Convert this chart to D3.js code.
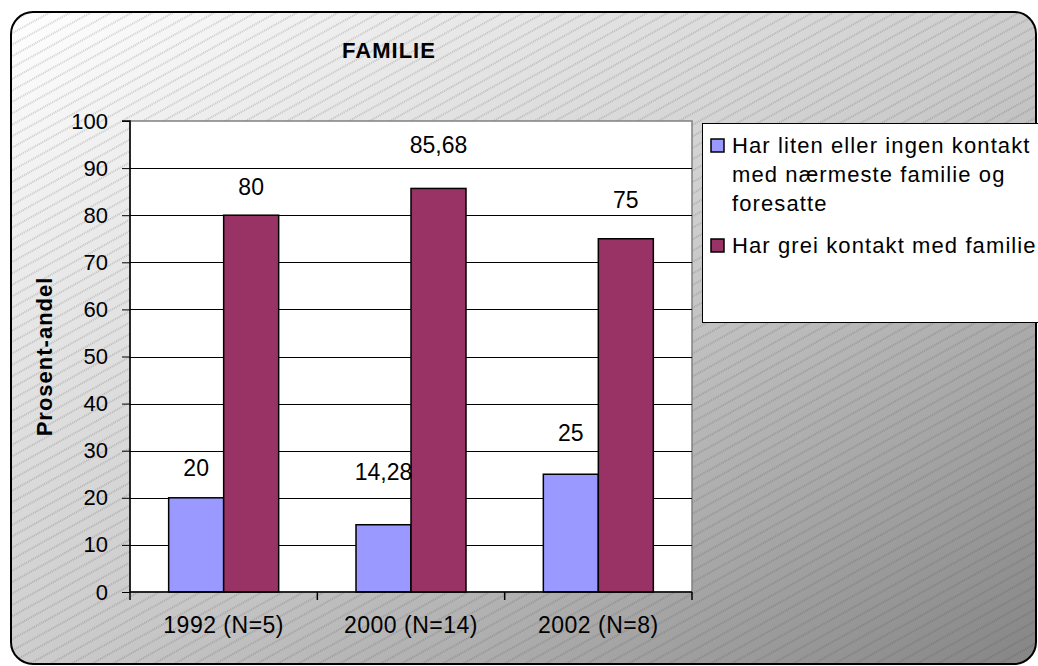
<!DOCTYPE html>
<html><head><meta charset="utf-8">
<script src="https://cdn.jsdelivr.net/npm/d3@7/dist/d3.min.js"></script>
<style>html,body{margin:0;padding:0;background:#fff;}svg{display:block;font-family:"Liberation Sans",Arial,sans-serif;}</style>
</head><body><div id="chart"></div>
<script>
const categories = ["1992 (N=5)", "2000 (N=14)", "2002 (N=8)"];
const seriesNames = ["Har liten eller ingen kontakt med nærmeste familie og foresatte", "Har grei kontakt med familie"];
const seriesLow = [20, 14.28, 25];
const seriesGood = [80, 85.68, 75];
const yTicks = [0, 10, 20, 30, 40, 50, 60, 70, 80, 90, 100];
const legendLines = [["Har liten eller ingen kontakt", "med nærmeste familie og", "foresatte"], ["Har grei kontakt med familie"]];
const colors = ["#9999FF", "#993366"];
const title = "FAMILIE";
const yTitle = "Prosent-andel";
// label gap above each bar (layout, px): [low, good] per category
const labelGap = [[22, 20], [45, 35], [33, 31]];

const W = 1038, H = 666;
const FONT = "Liberation Sans, Arial, sans-serif";
const svg = d3.select("#chart").append("svg").attr("width", W).attr("height", H);
const defs = svg.append("defs");
const grad = defs.append("linearGradient").attr("id", "bg").attr("x1", "0").attr("y1", "0").attr("x2", "1").attr("y2", "1");
grad.append("stop").attr("offset", "0").attr("stop-color", "#ffffff");
grad.append("stop").attr("offset", "0.5").attr("stop-color", "#cdcdcd");
grad.append("stop").attr("offset", "1").attr("stop-color", "#858585");
const pat = defs.append("pattern").attr("id", "hatch").attr("patternUnits", "userSpaceOnUse")
  .attr("width", 20).attr("height", 10).attr("patternTransform", "rotate(-29)");
pat.append("line").attr("x1", 0).attr("x2", 20).attr("y1", 5).attr("y2", 5)
  .attr("stroke", "rgba(60,60,60,0.45)").attr("stroke-width", 1).attr("stroke-dasharray", "1,1");

// Outer frame
svg.append("rect").attr("x", 11).attr("y", 12).attr("width", 1025).attr("height", 652).attr("rx", 22)
  .attr("fill", "url(#bg)");
svg.append("rect").attr("x", 11).attr("y", 12).attr("width", 1025).attr("height", 652).attr("rx", 22)
  .attr("fill", "url(#hatch)").attr("stroke", "#000").attr("stroke-width", 2);

const plot = {l: 130, r: 692, t: 121, b: 592};
const x0 = d3.scaleBand().domain(categories).range([plot.l, plot.r]).paddingInner(0).paddingOuter(0);
const y = d3.scaleLinear().domain([0, 100]).range([plot.b, plot.t]);
const groupW = 110;
const x1 = d3.scaleBand().domain([0, 1]).range([0, groupW]);

// plot background
svg.append("rect").attr("x", plot.l).attr("y", plot.t).attr("width", plot.r - plot.l).attr("height", plot.b - plot.t)
  .attr("fill", "#fff").attr("stroke", "#808080").attr("stroke-width", 1.5);

// gridlines
svg.append("g").selectAll("line").data(yTicks.filter(d => d > 0 && d < 100)).join("line")
  .attr("x1", plot.l).attr("x2", plot.r).attr("y1", d => Math.round(y(d)) + 0.5).attr("y2", d => Math.round(y(d)) + 0.5)
  .attr("stroke", "#000").attr("stroke-width", 1);

// bars
const data = categories.map((c, i) => ({c, i, v: [seriesLow[i], seriesGood[i]]}));
const groups = svg.append("g").selectAll("g").data(data).join("g")
  .attr("transform", d => `translate(${x0(d.c) + (x0.bandwidth() - groupW) / 2},0)`);
groups.selectAll("rect").data(d => d.v.map((v, k) => ({v, k}))).join("rect")
  .attr("x", d => x1(d.k)).attr("width", x1.bandwidth()).attr("y", d => y(d.v)).attr("height", d => y(0) - y(d.v))
  .attr("fill", d => colors[d.k]).attr("stroke", "#000").attr("stroke-width", 1.5);
groups.selectAll("text").data(d => d.v.map((v, k) => ({v, k, i: d.i}))).join("text")
  .attr("x", d => x1(d.k) + x1.bandwidth() / 2).attr("y", d => y(d.v) - labelGap[d.i][d.k])
  .attr("text-anchor", "middle").attr("font-size", 23).attr("fill", "#000")
  .text(d => String(d.v).replace(".", ","));

// axes
const yAxis = d3.axisLeft(y).tickValues(yTicks).tickSize(8).tickPadding(14);
const gy = svg.append("g").attr("transform", `translate(${plot.l},0)`).call(yAxis);
gy.attr("font-size", 22).attr("font-family", FONT);
gy.select(".domain").attr("stroke", "#000").attr("stroke-width", 1.5).attr("d", `M-8,${plot.t}H0V${plot.b}`);
gy.selectAll(".tick line").attr("stroke", "#000");
gy.selectAll(".tick text").attr("font-size", 22).attr("fill", "#000");

const xAxis = d3.axisBottom(x0).tickSize(0).tickPadding(25);
const gx = svg.append("g").attr("transform", `translate(0,${plot.b})`).call(xAxis);
gx.attr("font-size", 23).attr("font-family", FONT);
gx.select(".domain").attr("stroke", "#000").attr("stroke-width", 1.5).attr("d", `M${plot.l},0H${plot.r}`);
gx.selectAll(".tick text").attr("font-size", 23).attr("fill", "#000").attr("letter-spacing", 0.5);
gx.append("g").selectAll("line").data(categories).join("line")
  .attr("x1", d => x0(d) + x0.bandwidth()).attr("x2", d => x0(d) + x0.bandwidth())
  .attr("y1", 0).attr("y2", 8).attr("stroke", "#000").attr("stroke-width", 1.5);
gx.append("line").attr("x1", plot.l).attr("x2", plot.l).attr("y1", 0).attr("y2", 8).attr("stroke", "#000").attr("stroke-width", 1.5);

// titles
svg.append("text").attr("x", 389).attr("y", 58).attr("text-anchor", "middle").attr("font-size", 22)
  .attr("font-weight", "bold").attr("letter-spacing", 1).text(title);
svg.append("text").attr("transform", `translate(52,${(plot.t + plot.b) / 2}) rotate(-90)`).attr("text-anchor", "middle")
  .attr("font-size", 22).attr("font-weight", "bold").attr("letter-spacing", 1).text(yTitle);

// legend
const lg = svg.append("g");
lg.append("rect").attr("x", 702.5).attr("y", 123.5).attr("width", 360).attr("height", 199)
  .attr("fill", "#fff").attr("stroke", "#000").attr("stroke-width", 1);
const lineH = 29;
const startY = [153, 253];
legendLines.forEach((lines, k) => {
  lg.append("rect").attr("x", 711).attr("y", startY[k] - 14).attr("width", 13).attr("height", 13)
    .attr("fill", colors[k]).attr("stroke", "#000").attr("stroke-width", 1.5);
  lines.forEach((t, j) => {
    lg.append("text").attr("x", 732).attr("y", startY[k] + j * lineH).attr("font-size", 22)
      .attr("letter-spacing", 1.1).attr("fill", "#000").text(t);
  });
});
</script></body></html>
